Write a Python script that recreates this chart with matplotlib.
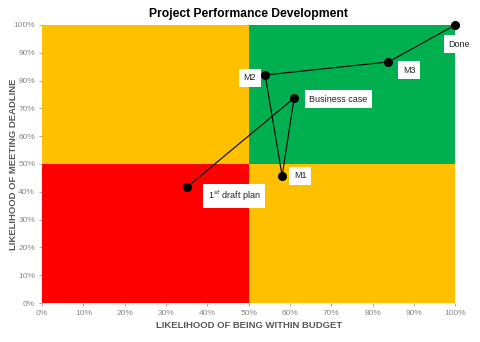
import matplotlib
matplotlib.use('Agg')
import matplotlib.pyplot as plt
from matplotlib.ticker import PercentFormatter

plt.rcParams['font.family'] = ['Liberation Sans', 'DejaVu Sans']

# data (fractions)
etapas = ['1$^{st}$ draft plan', 'Business case', 'M1', 'M2', 'M3', 'Done']
orcamento = [0.351, 0.61, 0.581, 0.54, 0.838, 1.00]
prazo = [0.417, 0.737, 0.457, 0.82, 0.867, 1.00]
# label offsets (points)
offs = [(34, -6.5), (32, -1), (13, 0), (-11, -2), (15, -6), (3, -14)]

fig = plt.figure(figsize=(4.8, 3.42), dpi=100)
ax = fig.add_axes([0.0875, 0.114, 0.861, 0.813])

# quadrants
ax.axvspan(0, 0.5, 0, 0.5, color='#FF0000', lw=0)
ax.axvspan(0.5, 1, 0, 0.5, color='#FFC000', lw=0)
ax.axvspan(0, 0.5, 0.5, 1, color='#FFC000', lw=0)
ax.axvspan(0.5, 1, 0.5, 1, color='#00B050', lw=0)

ax.plot(orcamento, prazo, color='black', lw=0.8, marker='o', ms=5.5,
        mfc='black', mec='black', clip_on=False, zorder=3)

for nome, x, y, o in zip(etapas, orcamento, prazo, offs):
    ax.annotate(nome, (x, y), xytext=o, textcoords='offset points',
                ha='center', va='center', fontsize=6.5, color='#222222',
                bbox=dict(boxstyle='square,pad=0.5', fc='white', ec='none'),
                zorder=4, annotation_clip=False)

ax.set_xlim(0, 1)
ax.set_ylim(0, 1)
ax.set_xticks([i / 10 for i in range(11)])
ax.set_yticks([i / 10 for i in range(11)])
ax.xaxis.set_major_formatter(PercentFormatter(1.0, decimals=0))
ax.yaxis.set_major_formatter(PercentFormatter(1.0, decimals=0))
ax.tick_params(labelsize=6, colors='#888888', length=2, width=0.5, pad=3)
for s in ax.spines.values():
    s.set_visible(False)

ax.set_title('Project Performance Development', fontsize=8.7, fontweight='bold', pad=6)
ax.set_xlabel('LIKELIHOOD OF BEING WITHIN BUDGET', fontsize=6.8, fontweight='bold',
              color='#595959', labelpad=3)
ax.set_ylabel('LIKELIHOOD OF MEETING DEADLINE', fontsize=6.8, fontweight='bold',
              color='#595959')
ax.yaxis.set_label_coords(-0.057, 0.5)

plt.savefig('out.png', dpi=100)
